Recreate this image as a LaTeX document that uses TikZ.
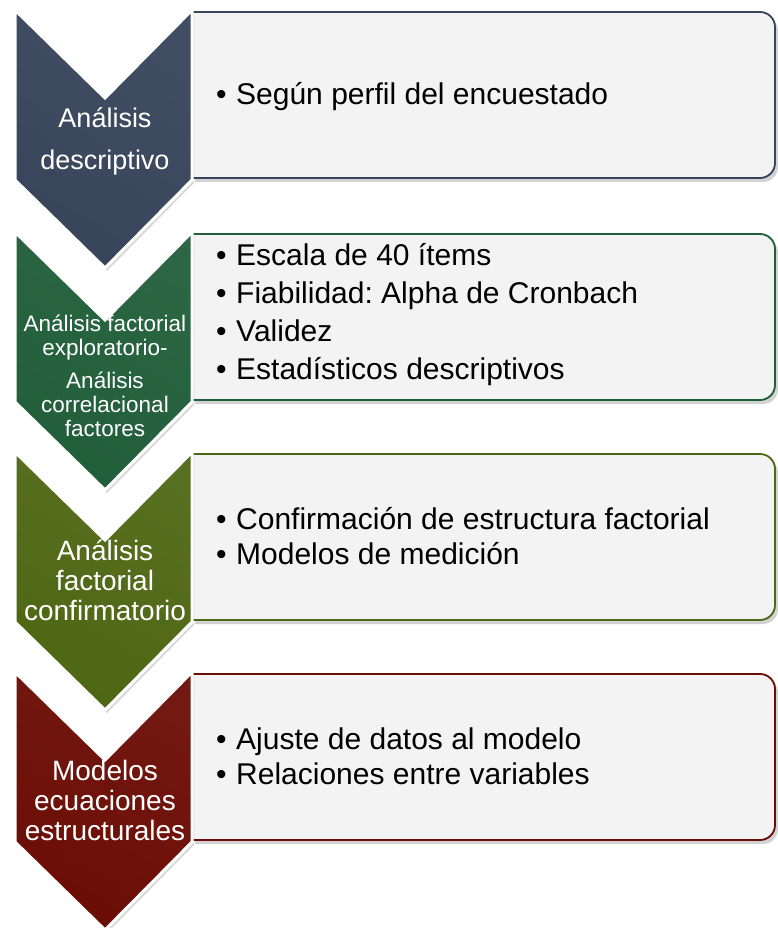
\documentclass[tikz,border=0pt]{standalone}
\usepackage{fontspec}
\setmainfont{Liberation Sans}
\frenchspacing
\usetikzlibrary{shadows}
\definecolor{cslate}{HTML}{37445A}
\definecolor{cgreen}{HTML}{215E3A}
\definecolor{colive}{HTML}{4E6714}
\definecolor{cred}{HTML}{6B0D05}
\definecolor{cbox}{HTML}{F3F3F3}
\newcommand\itm[1]{\makebox[20pt][l]{\textbullet}#1}
\tikzset{
  chev/.style={draw=white, line width=3pt, line join=miter,
    drop shadow={opacity=0.3, shadow xshift=2pt, shadow yshift=-3pt}},
  boxshape/.style={draw=#1, line width=1.8pt, fill=cbox,
    drop shadow={opacity=0.35, shadow xshift=3pt, shadow yshift=-4pt}},
  chevtext/.style={text=white, align=center, inner sep=0pt, font=\fontsize{28}{30}\selectfont},
  boxtext/.style={text=black, align=left, anchor=west, inner sep=0pt, font=\fontsize{30}{36}\selectfont},
}
\newcommand\stage[2]{%
  \path[boxshape=#2] (192,#1+2) -- (760,#1+2) to[out=0,in=90] (775,#1+17)
     -- (775,#1+153) to[out=-90,in=0] (760,#1+168) -- (192,#1+168) -- cycle;
  \path[chev, top color=#2!95!white, bottom color=#2, shading angle=-30]
     (15,#1) -- (105,#1+88) -- (192,#1) -- (192,#1+170) -- (105,#1+258) -- (15,#1+170) -- cycle;
}
\begin{document}
\begin{tikzpicture}[x=1pt,y=-1pt]
\useasboundingbox[fill=white] (0,0) rectangle (777,928);
\stage{10}{cslate}
\stage{232}{cgreen}
\stage{452}{colive}
\stage{672}{cred}

\node[chevtext, font=\fontsize{27}{42}\selectfont] (c1) at (105,141) {Análisis\\descriptivo};
\node[boxtext] (b1) at (216,97) {\itm{Según perfil del encuestado}};

\node[chevtext, font=\fontsize{22.5}{24}\selectfont] (c2) at (105,376) {Análisis factorial\\exploratorio-\\[9pt]Análisis\\correlacional\\factores};
\node[boxtext, font=\fontsize{30}{38}\selectfont] (b2) at (216,315) {\itm{Escala de 40 ítems}\\\itm{Fiabilidad: Alpha de Cronbach}\\\itm{Validez}\\\itm{Estadísticos descriptivos}};

\node[chevtext] (c3) at (105,580) {Análisis\\factorial\\confirmatorio};
\node[boxtext, font=\fontsize{30}{35}\selectfont] (b3) at (216,536) {\itm{Confirmación de estructura factorial}\\\itm{Modelos de medición}};

\node[chevtext] (c4) at (105,800) {Modelos\\ecuaciones\\estructurales};
\node[boxtext, font=\fontsize{30}{35}\selectfont] (b4) at (216,756) {\itm{Ajuste de datos al modelo}\\\itm{Relaciones entre variables}};
\end{tikzpicture}
\end{document}
